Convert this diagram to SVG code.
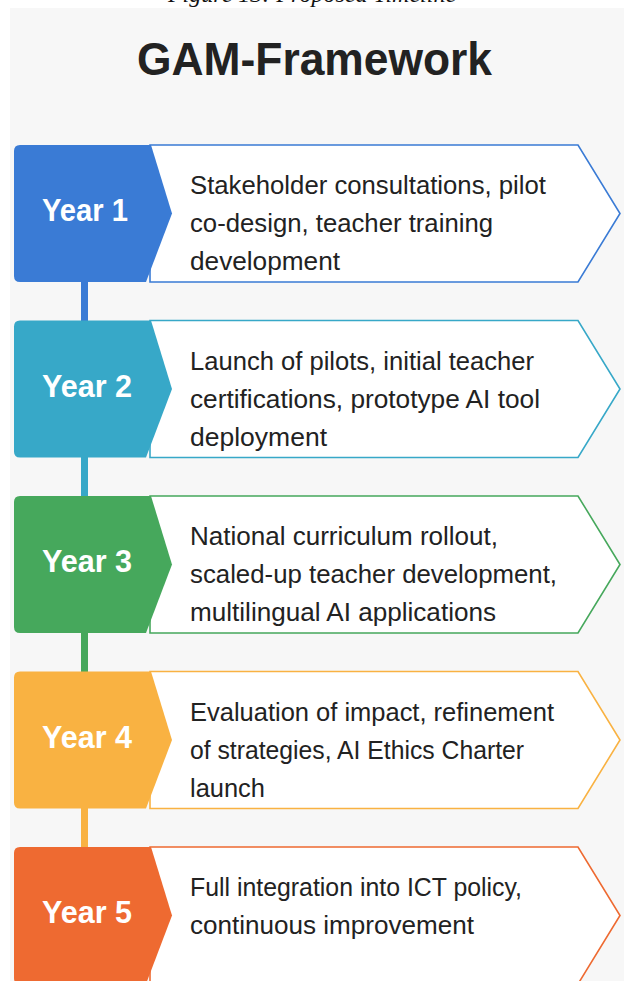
<svg xmlns="http://www.w3.org/2000/svg" width="624" height="981" viewBox="0 0 624 981">
<style>
.cap{font-family:"Liberation Serif",serif;font-style:italic;font-size:24px;fill:#111}
.title{font-family:"Liberation Sans",Arial,sans-serif;font-weight:bold;font-size:46px;fill:#222}
.yr{font-family:"Liberation Sans",Arial,sans-serif;font-weight:bold;font-size:31px;fill:#fff}
.d{font-family:"Liberation Sans",Arial,sans-serif;font-size:25px;fill:#222}
.out{fill:#fff;stroke-width:1.6}
</style>
<rect x="0" y="0" width="624" height="981" fill="#fff"/>
<text class="cap" x="312" y="2" text-anchor="middle">Figure 13: Proposed Timeline</text>
<rect x="10" y="8" width="614" height="973" fill="#f7f7f7"/>
<text class="title" x="137" y="75" textLength="355" lengthAdjust="spacingAndGlyphs">GAM-Framework</text>

<g id="connectors">
<rect x="81" y="280" width="7" height="42" fill="#3a7bd5"/>
<rect x="81" y="455" width="7" height="43" fill="#37a8c8"/>
<rect x="81" y="631" width="7" height="42" fill="#46a85c"/>
<rect x="81" y="806" width="7" height="43" fill="#f9b242"/>
</g>

<g id="year1">
<path class="out" stroke="#3a7bd5" d="M150,145 H578 L620,213.5 L578,282 H150 Z"/>
<path fill="#3a7bd5" d="M20,145 H151 L172,213.5 L146,282 H20 Q14,282 14,276 V151 Q14,145 20,145 Z"/>
<text class="yr" x="42" y="221" textLength="86" lengthAdjust="spacingAndGlyphs">Year 1</text>
<text class="d" x="190" y="194" textLength="356" lengthAdjust="spacingAndGlyphs">Stakeholder consultations, pilot</text>
<text class="d" x="190" y="232" textLength="303" lengthAdjust="spacingAndGlyphs">co-design, teacher training</text>
<text class="d" x="190" y="270" textLength="150" lengthAdjust="spacingAndGlyphs">development</text>
</g>

<g id="year2">
<path class="out" stroke="#37a8c8" d="M150,320.5 H578 L620,389 L578,457.5 H150 Z"/>
<path fill="#37a8c8" d="M20,320.5 H151 L172,389 L146,457.5 H20 Q14,457.5 14,451.5 V326.5 Q14,320.5 20,320.5 Z"/>
<text class="yr" x="42" y="396.5" textLength="90" lengthAdjust="spacingAndGlyphs">Year 2</text>
<text class="d" x="190" y="369.5" textLength="344" lengthAdjust="spacingAndGlyphs">Launch of pilots, initial teacher</text>
<text class="d" x="190" y="407.5" textLength="350" lengthAdjust="spacingAndGlyphs">certifications, prototype AI tool</text>
<text class="d" x="190" y="445.5" textLength="137" lengthAdjust="spacingAndGlyphs">deployment</text>
</g>

<g id="year3">
<path class="out" stroke="#46a85c" d="M150,496 H578 L620,564.5 L578,633 H150 Z"/>
<path fill="#46a85c" d="M20,496 H151 L172,564.5 L146,633 H20 Q14,633 14,627 V502 Q14,496 20,496 Z"/>
<text class="yr" x="42" y="572" textLength="90" lengthAdjust="spacingAndGlyphs">Year 3</text>
<text class="d" x="190" y="545" textLength="308" lengthAdjust="spacingAndGlyphs">National curriculum rollout,</text>
<text class="d" x="190" y="583" textLength="367" lengthAdjust="spacingAndGlyphs">scaled-up teacher development,</text>
<text class="d" x="190" y="621" textLength="306" lengthAdjust="spacingAndGlyphs">multilingual AI applications</text>
</g>

<g id="year4">
<path class="out" stroke="#f9b242" d="M150,671.5 H578 L620,740 L578,808.5 H150 Z"/>
<path fill="#f9b242" d="M20,671.5 H151 L172,740 L146,808.5 H20 Q14,808.5 14,802.5 V677.5 Q14,671.5 20,671.5 Z"/>
<text class="yr" x="42" y="747.5" textLength="90" lengthAdjust="spacingAndGlyphs">Year 4</text>
<text class="d" x="190" y="720.5" textLength="364" lengthAdjust="spacingAndGlyphs">Evaluation of impact, refinement</text>
<text class="d" x="190" y="758.5" textLength="334" lengthAdjust="spacingAndGlyphs">of strategies, AI Ethics Charter</text>
<text class="d" x="190" y="796.5" textLength="75" lengthAdjust="spacingAndGlyphs">launch</text>
</g>

<g id="year5">
<path class="out" stroke="#ee6a31" d="M150,847 H578 L620,915.5 L578,984 H150 Z"/>
<path fill="#ee6a31" d="M20,847 H151 L172,915.5 L146,984 H20 Q14,984 14,978 V853 Q14,847 20,847 Z"/>
<text class="yr" x="42" y="923" textLength="90" lengthAdjust="spacingAndGlyphs">Year 5</text>
<text class="d" x="190" y="896" textLength="332" lengthAdjust="spacingAndGlyphs">Full integration into ICT policy,</text>
<text class="d" x="190" y="934" textLength="284" lengthAdjust="spacingAndGlyphs">continuous improvement</text>
</g>
</svg>
